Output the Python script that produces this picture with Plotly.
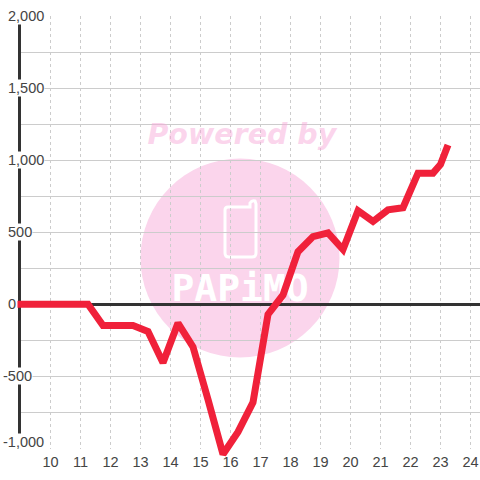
import plotly.graph_objects as go

hours = [8.9, 11.25, 11.75, 12.75, 13.25, 13.75, 14.25, 14.75, 15.25, 15.75, 16.25, 16.75,
         17.25, 17.75, 18.25, 18.75, 19.25, 19.75, 20.25, 20.75, 21.25, 21.75, 22.25, 22.75, 23.0, 23.25]
profit = [0, 0, -147, -147, -189, -405, -130, -295, -660, -1040, -885, -680,
          -70, 65, 365, 470, 495, 380, 650, 575, 655, 670, 910, 910, 970, 1105]
x_ticks = list(range(10, 25))
y_label_vals = [2000, 1500, 1000, 500, 0, -500, -1000]
y_label_text = ["2,000", "1,500", "1,000", "500", "0", "-500", "-1,000"]

W, H = 480, 480
L, T, B = 20.5, 16, 31.5
PW, PH = W - L, H - T - B
UX, UY = 30.0, PH / 3000.0      # px per hour / px per unit
px = lambda v: v / W
py = lambda v: 1 - v / H

FONT = "Liberation Sans"
TXT = "#444444"
PINK = "#fbd5ec"
GRID = "#cccccc"

fig = go.Figure()
fig.add_trace(go.Scatter(x=[16.38], y=[1163], mode="text", text=["Powered by"],
                         textfont=dict(family="DejaVu Sans", size=28.5, weight="bold", style="italic",
                                       color="rgba(247,171,217,0.5)"),
                         cliponaxis=False, hoverinfo="skip", showlegend=False))
fig.add_trace(go.Scatter(x=[16.32], y=[90], mode="text", text=["PAPiMO"],
                         textfont=dict(family="DejaVu Sans Mono", size=38, weight="bold", color="white"),
                         cliponaxis=False, hoverinfo="skip", showlegend=False))
fig.add_trace(go.Scatter(x=hours, y=profit, mode="lines", xaxis="x2", yaxis="y2",
                         line=dict(color="#f0213a", width=7),
                         hoverinfo="skip", showlegend=False))

phone = (f"M {px(228)},{py(207)} L {px(250)},{py(207)} L {px(250)},{py(203)} Q {px(252)},{py(200)} {px(255)},{py(201)} "
         f"L {px(256)},{py(204)} L {px(256)},{py(253)} Q {px(256)},{py(257)} {px(252)},{py(257)} "
         f"L {px(229)},{py(257)} Q {px(225)},{py(257)} {px(225)},{py(253)} L {px(225)},{py(210)} Q {px(225)},{py(207)} {px(228)},{py(207)} Z")

shapes = [
    dict(type="circle", xref="paper", yref="paper", layer="below",
         x0=px(140.5), x1=px(339.5), y0=py(357.5), y1=py(158.5),
         fillcolor=PINK, line=dict(width=0)),
    dict(type="path", xref="paper", yref="paper", layer="below", path=phone,
         line=dict(color="white", width=3)),
]

annotations = []
for v, t in zip(y_label_vals, y_label_text):
    annotations.append(dict(
        xref="paper", yref="y", x=px(2 if v < 0 else 7), y=v, text=t, showarrow=False,
        xanchor="left", yanchor="middle", bgcolor="white", borderpad=0,
        yshift=6.5 if v == -1000 else 0,
        font=dict(family=FONT, size=14.5, color=TXT)))

fig.update_layout(
    width=W, height=H, autosize=False,
    margin=dict(l=0, r=0, t=0, b=0, pad=0),
    paper_bgcolor="white", plot_bgcolor="rgba(0,0,0,0)",
    showlegend=False, shapes=shapes, annotations=annotations,
    xaxis=dict(domain=[px(L), 1], range=[9, 9 + PW / UX], tickmode="array", tickvals=x_ticks,
               ticktext=[str(v) for v in x_ticks], showgrid=True, gridcolor=GRID, gridwidth=1,
               griddash="3px,3px", zeroline=False, showline=False, ticks="", ticklen=0,
               ticklabelstandoff=3,
               tickfont=dict(family=FONT, size=14.5, color=TXT), layer="below traces", anchor="y"),
    yaxis=dict(domain=[B / H, 1 - T / H], range=[-1000, 2000], dtick=250, tick0=0, showgrid=True,
               gridcolor=GRID, gridwidth=1,
               showticklabels=False, zeroline=True, zerolinecolor="#333333", zerolinewidth=3,
               showline=True, linecolor="#333333", linewidth=3, ticks="", layer="below traces", anchor="x"),
    # overlay axes spanning the whole page, same scale, so the thick line is not cut at the frame
    xaxis2=dict(domain=[0, 1], range=[9 - L / UX, 9 + PW / UX], visible=False, anchor="y2", fixedrange=True),
    yaxis2=dict(domain=[0, 1], range=[-1000 - B / UY, 2000 + T / UY], visible=False, anchor="x2", fixedrange=True),
)
fig.write_html("out.html", config=dict(displayModeBar=False), post_script="document.body.style.margin='0';")
